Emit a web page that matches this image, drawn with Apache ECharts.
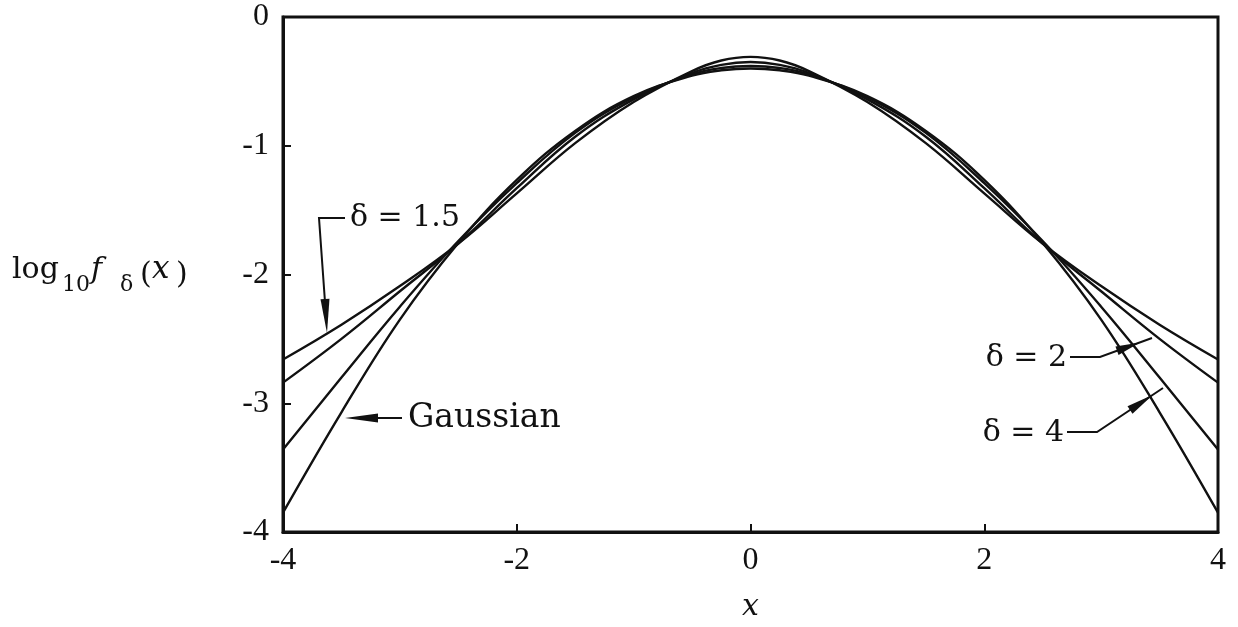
<!DOCTYPE html>
<html>
<head>
<meta charset="utf-8">
<script src="https://cdn.jsdelivr.net/npm/echarts@6/dist/echarts.min.js"></script>
<style>
  html, body { margin: 0; padding: 0; background: #fff; }
  #chart { width: 1238px; height: 627px; }
</style>
</head>
<body>
<div id="chart"></div>
<script>
// Sample positions along x
const xValues = [-4, -3.5, -3, -2.5, -2, -1.5, -1, -0.5, -0.25, 0, 0.25, 0.5, 1, 1.5, 2, 2.5, 3, 3.5, 4];

// log10 f_delta(x) for each curve
const delta15 = [-2.66, -2.39, -2.09, -1.76, -1.37, -0.98, -0.66, -0.42, -0.338, -0.31, -0.338, -0.42, -0.66, -0.98, -1.37, -1.76, -2.09, -2.39, -2.66];
const delta2 = [-2.84, -2.50, -2.13, -1.76, -1.33, -0.93, -0.64, -0.435, -0.372, -0.35, -0.372, -0.435, -0.64, -0.93, -1.33, -1.76, -2.13, -2.50, -2.84];
const delta4 = [-3.36, -2.80, -2.25, -1.74, -1.29, -0.90, -0.625, -0.445, -0.396, -0.38, -0.396, -0.445, -0.625, -0.90, -1.29, -1.74, -2.25, -2.80, -3.36];
const gaussian = [-3.85, -3.07, -2.35, -1.755, -1.265, -0.885, -0.615, -0.455, -0.414, -0.40, -0.414, -0.455, -0.615, -0.885, -1.265, -1.755, -2.35, -3.07, -3.85];

// Axis ticks
const xTicks = [-4, -2, 0, 2, 4];
const yTicks = [-4, -3, -2, -1, 0];

const serif = '"DejaVu Serif", serif';
const tickFont = '"Liberation Serif", serif';

function pairs(ys) {
  return xValues.map((x, i) => [x, ys[i]]);
}

function curve(name, ys) {
  return {
    name: name,
    type: 'line',
    data: pairs(ys),
    smooth: 0.4,
    showSymbol: false,
    silent: true,
    lineStyle: { color: '#111', width: 2.4 },
    z: 3
  };
}

// Filled arrowhead: tip point, base centre point, half width
function arrowHead(tip, base, hw) {
  const dx = tip[0] - base[0], dy = tip[1] - base[1];
  const len = Math.hypot(dx, dy);
  const nx = -dy / len * hw, ny = dx / len * hw;
  return {
    type: 'polygon',
    shape: { points: [tip, [base[0] + nx, base[1] + ny], [base[0] - nx, base[1] - ny]] },
    style: { fill: '#111' },
    z: 10
  };
}

function leader(points) {
  return {
    type: 'polyline',
    shape: { points: points },
    style: { stroke: '#111', lineWidth: 2, fill: null },
    z: 10
  };
}

function label(text, x, y, size, align) {
  return {
    type: 'text',
    x: x, y: y,
    style: {
      text: text,
      font: size + 'px ' + serif,
      fill: '#111',
      textAlign: align || 'left',
      textVerticalAlign: 'middle'
    },
    z: 10
  };
}

function titlePart(text, x, y, font) {
  return { type: 'text', x: x, y: y, style: { text: text, font: font, fill: '#111', textVerticalAlign: 'bottom' } };
}

const chart = echarts.init(document.getElementById('chart'), null, { renderer: 'canvas' });

chart.setOption({
  animation: false,
  backgroundColor: '#fff',
  grid: {
    left: 283, right: 20, top: 17, bottom: 94,
    show: true, borderColor: '#111', borderWidth: 3, backgroundColor: 'transparent'
  },
  xAxis: {
    type: 'value',
    min: xTicks[0], max: xTicks[xTicks.length - 1], interval: 2,
    axisLine: { show: true, onZero: false, lineStyle: { color: '#111', width: 3 } },
    axisTick: { show: true, inside: true, length: 8, lineStyle: { color: '#111', width: 2 } },
    splitLine: { show: false },
    axisLabel: {
      color: '#111', fontFamily: tickFont, fontSize: 32, margin: 13,
      formatter: v => xTicks.includes(v) ? String(v) : ''
    },
    name: 'x',
    nameLocation: 'middle',
    nameGap: 60,
    nameTextStyle: { color: '#111', fontFamily: serif, fontStyle: 'italic', fontSize: 30 }
  },
  yAxis: {
    type: 'value',
    min: yTicks[0], max: yTicks[yTicks.length - 1], interval: 1,
    axisLine: { show: true, onZero: false, lineStyle: { color: '#111', width: 3 } },
    axisTick: { show: true, inside: true, length: 8, lineStyle: { color: '#111', width: 2 } },
    splitLine: { show: false },
    axisLabel: {
      color: '#111', fontFamily: tickFont, fontSize: 32, margin: 14,
      formatter: v => yTicks.includes(v) ? String(v) : ''
    }
  },
  series: [
    curve('δ = 1.5', delta15),
    curve('δ = 2', delta2),
    curve('δ = 4', delta4),
    curve('Gaussian', gaussian)
  ],
  graphic: [
    // y-axis title: log10 f_δ(x)
    titlePart('log', 12, 285, '30px ' + serif),
    titlePart('10', 62, 296, '22px ' + serif),
    titlePart('f', 91, 285, 'italic 30px ' + serif),
    titlePart('δ', 120, 296, '22px ' + serif),
    titlePart('(', 140, 290, '30px ' + serif),
    titlePart('x', 152, 285, 'italic 31px ' + serif),
    titlePart(')', 176, 290, '30px ' + serif),

    // δ = 1.5 label with bracket arrow
    label('δ = 1.5', 350, 218, 30),
    leader([[345, 218], [319, 218], [325, 302]]),
    arrowHead([327, 333], [325, 299], 4.5),

    // Gaussian label with arrow
    label('Gaussian', 408, 418, 33),
    leader([[402, 418], [374, 418]]),
    arrowHead([345, 418], [378, 418], 4.5),

    // δ = 2 label with arrow
    label('δ = 2', 1067, 358, 30, 'right'),
    leader([[1070, 357], [1100, 357], [1152, 338]]),
    arrowHead([1140, 342.4], [1117, 350.8], 4.5),

    // δ = 4 label with arrow
    label('δ = 4', 1064, 433, 30, 'right'),
    leader([[1067, 432], [1097, 432], [1163, 388]]),
    arrowHead([1153, 394.7], [1130, 410], 4.5)
  ]
});
</script>
</body>
</html>
